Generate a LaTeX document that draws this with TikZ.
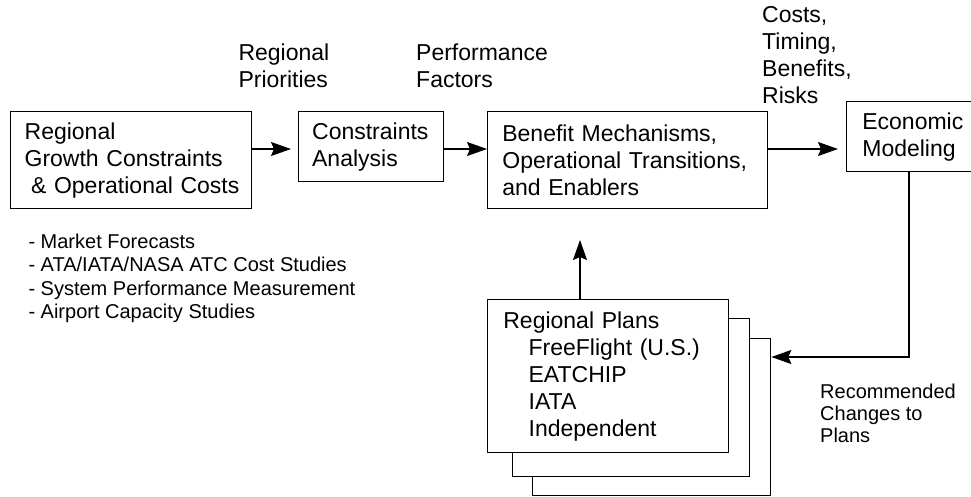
\documentclass[tikz,border=0pt]{standalone}
\usepackage{fontspec}
\setmainfont{Liberation Sans}
\usetikzlibrary{arrows.meta}
\begin{document}
\begin{tikzpicture}[x=1pt,y=-1pt,
  box/.style={draw, line width=1.3pt, fill=white, anchor=north west, align=left,
    font=\fontsize{23pt}{27pt}\selectfont, inner ysep=0pt},
  lab/.style={anchor=north west, inner sep=0pt, align=left,
    font=\fontsize{23pt}{27pt}\selectfont},
  small/.style={anchor=north west, inner sep=0pt, align=left,
    font=\fontsize{20pt}{23.5pt}\selectfont},
  arr/.style={line width=1.3pt, -{Stealth[length=20pt,width=14pt,inset=3pt]}}]
\useasboundingbox (0,0) rectangle (971,496);

% main boxes
\node[box, text width=213pt, inner xsep=14pt, minimum height=97pt] (b1) at (10,111)
  {\mbox{Regional}\\\mbox{Growth Constraints}\\\mbox{\hspace*{6.4pt}\& Operational Costs}};
\node[box, text width=118pt, inner xsep=13.5pt, minimum height=70pt] (b2) at (298,111)
  {\mbox{Constraints}\\\mbox{Analysis}};
\node[box, text width=250.6pt, inner xsep=14.7pt, minimum height=97pt] (b3) at (487,111)
  {\mbox{Benefit Mechanisms,}\\\mbox{Operational Transitions,}\\\mbox{and Enablers}};
\node[box, text width=108.6pt, inner xsep=15.7pt, minimum height=70pt] (b4) at (846,101)
  {\mbox{Economic}\\\mbox{Modeling}};

% stacked plan boxes
\node[box, minimum width=238pt, minimum height=157pt] (p3) at (532,338) {};
\node[box, minimum width=237pt, minimum height=158pt] (p2) at (512,318) {};
\node[box, text width=209.6pt, inner xsep=15.7pt, minimum height=153pt] (p1) at (487,299)
  {\mbox{Regional Plans}\\\mbox{\hspace*{25.3pt}FreeFlight (U.S.)}\\\mbox{\hspace*{25.3pt}EATCHIP}\\\mbox{\hspace*{25.3pt}IATA}\\\mbox{\hspace*{25.3pt}Independent}};

% labels
\node[lab] (lrp) at (238.3,43.5) {Regional\\Priorities};
\node[lab] (lpf) at (416,43.5) {Performance\\Factors};
\node[lab] (lct) at (762,6.5) {Costs,\\Timing,\\Benefits,\\Risks};
\node[small] (lst) at (28.3,233.7)
  {- Market Forecasts\\- ATA/IATA/NASA ATC Cost Studies\\- System Performance Measurement\\- Airport Capacity Studies};
\node[small, font=\fontsize{20pt}{22pt}\selectfont] (rec) at (820,383.7)
  {Recommended\\Changes to\\Plans};

% connectors
\coordinate (ay) at (0,149);
\coordinate (up) at (580,240);
\coordinate (fb) at (909,357);
\draw[arr, shorten >=7pt] (b1.east |- ay) -- (b2.west |- ay);
\draw[arr] (b2.east |- ay) -- (b3.west |- ay);
\draw[arr, shorten >=8pt] (b3.east |- ay) -- (b4.west |- ay);
\draw[arr] (p1.north -| up) -- (up);
\draw[arr] (b4.south -| fb) -- (fb) -- (p3.east |- fb);
\end{tikzpicture}
\end{document}
